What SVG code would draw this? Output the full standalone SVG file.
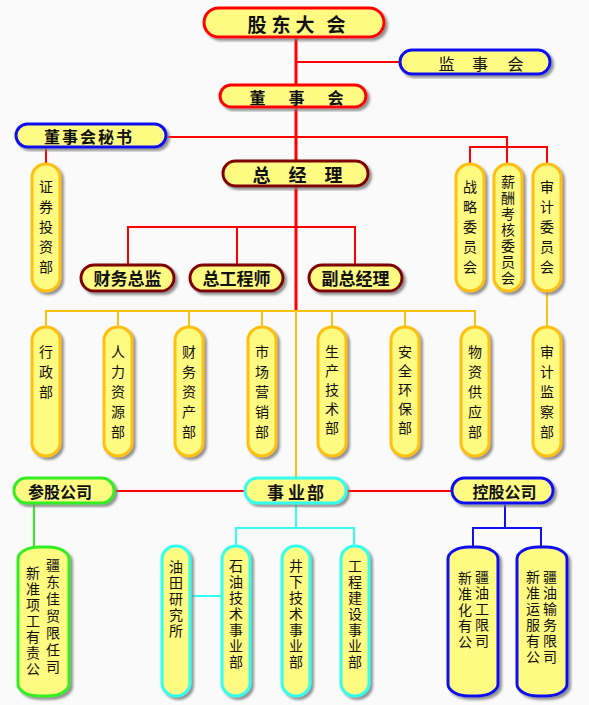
<svg xmlns="http://www.w3.org/2000/svg" width="589" height="705" viewBox="0 0 589 705">
<defs>
<filter id="sh" x="-20%" y="-20%" width="140%" height="140%">
<feDropShadow dx="2.5" dy="2.5" stdDeviation="1.2" flood-color="#777" flood-opacity="0.8"/>
</filter>
<style>
.n{fill:#FFFA82;stroke-width:3;filter:url(#sh)}
.red{stroke:#FF0000}.blue{stroke:#1010F0}.dred{stroke:#800000}.org{stroke:#FFC010}.grn{stroke:#33EE22}.cyn{stroke:#33FFEE}
.t{font-family:"Noto Sans CJK SC","Noto Sans",sans-serif;fill:#111;text-anchor:middle;dominant-baseline:central}
.b{font-weight:bold}
.v{font-family:"Noto Sans CJK SC","Noto Sans",sans-serif;fill:#111;font-size:14px;writing-mode:vertical-rl;text-orientation:upright;text-anchor:start}
.s20{letter-spacing:6px}.s19{letter-spacing:5px}.s16{letter-spacing:2px}.s17{letter-spacing:3px}
.c{fill:none;stroke-width:2}
</style>
</defs>
<rect width="589" height="705" fill="#FAFAFA"/>
<g id="connectors" fill="none">
<path d="M296,37 V311" stroke="#FF0000" stroke-width="3"/>
<path class="c red" d="M296,62 H400"/>
<path class="c red" d="M166,137 H507 V164"/>
<path class="c red" d="M470,164 V147 H547 V164"/>
<path class="c red" d="M46,147 V164"/>
<path class="c red" d="M128,265 V227 H355 V265 M237,227 V265"/>
<path class="c org" d="M46,327 V311 H475 V327 M118,311 V327 M189,311 V327 M262,311 V327 M332,311 V327 M405,311 V327 M296,311 V478"/>
<path class="c org" d="M547,291 V327"/>
<path class="c red" d="M114,491 H245 M346,491 H452"/>
<path class="c grn" d="M34,503 V547"/>
<path class="c cyn" d="M296,503 V528 M236,546 V528 H354 V546 M190,596 H222"/>
<path class="c blue" d="M505,503 V528 M473,547 V528 H541 V547"/>
</g>
<g id="gudong">
<rect class="n red" x="204" y="8" width="180" height="29" rx="14.5"/>
<text class="t b" font-size="19" y="23"><tspan x="257">股</tspan><tspan x="281">东</tspan><tspan x="305">大</tspan><tspan x="336">会</tspan></text>
</g>
<g id="jianshihui">
<rect class="n blue" x="400" y="50" width="150" height="24" rx="12"/>
<text class="t" font-size="16" y="63"><tspan x="446.5">监</tspan><tspan x="480">事</tspan><tspan x="515.5">会</tspan></text>
</g>
<g id="dongshihui">
<rect class="n red" x="220" y="85" width="146" height="22" rx="11"/>
<text class="t b" font-size="16" y="96.5"><tspan x="257.5">董</tspan><tspan x="296.5">事</tspan><tspan x="335.5">会</tspan></text>
</g>
<g id="mishu">
<rect class="n blue" x="16" y="124" width="150" height="23" rx="11.5"/>
<text class="t b" font-size="16" x="89" y="135.5" letter-spacing="2">董事会秘书</text>
</g>
<g id="zongjingli">
<rect class="n dred" x="223" y="161" width="145" height="25" rx="12.5"/>
<text class="t b" font-size="18" y="174"><tspan x="261.5">总</tspan><tspan x="297.5">经</tspan><tspan x="333.5">理</tspan></text>
</g>
<g id="caiwuzongjian">
<rect class="n dred" x="81" y="265" width="93" height="26" rx="13"/>
<text class="t b" font-size="17" x="127.5" y="277.5">财务总监</text>
</g>
<g id="zonggongchengshi">
<rect class="n dred" x="190" y="265" width="93" height="26" rx="13"/>
<text class="t b" font-size="17" x="236.5" y="277.5">总工程师</text>
</g>
<g id="fuzongjingli">
<rect class="n dred" x="309" y="265" width="93" height="26" rx="13"/>
<text class="t b" font-size="17" x="355.5" y="277.5">副总经理</text>
</g>
<g id="zhengquan">
<rect class="n org" x="32" y="164" width="28" height="127" rx="14" ry="13"/>
<text class="v s20" x="46" y="180">证券投资部</text>
</g>
<g id="zhanlue">
<rect class="n org" x="456" y="164" width="28" height="127" rx="14" ry="13"/>
<text class="v s20" x="470" y="180">战略委员会</text>
</g>
<g id="xinchou">
<rect class="n org" x="494" y="164" width="28" height="127" rx="14" ry="13"/>
<text class="v s16" x="508" y="175">薪酬考核委员会</text>
</g>
<g id="shenjiwei">
<rect class="n org" x="533" y="164" width="28" height="127" rx="14" ry="13"/>
<text class="v s20" x="547" y="180">审计委员会</text>
</g>
<g id="xingzheng">
<rect class="n org" x="32" y="327" width="28" height="129" rx="14" ry="13"/>
<text class="v s20" x="46" y="345">行政部</text>
</g>
<g id="renli">
<rect class="n org" x="104" y="327" width="28" height="129" rx="14" ry="13"/>
<text class="v s20" x="118" y="345">人力资源部</text>
</g>
<g id="caiwuzichan">
<rect class="n org" x="175" y="327" width="28" height="129" rx="14" ry="13"/>
<text class="v s20" x="189" y="345">财务资产部</text>
</g>
<g id="shichang">
<rect class="n org" x="248" y="327" width="28" height="129" rx="14" ry="13"/>
<text class="v s20" x="262" y="345">市场营销部</text>
</g>
<g id="shengchan">
<rect class="n org" x="318" y="327" width="28" height="129" rx="14" ry="13"/>
<text class="v s19" x="332" y="345">生产技术部</text>
</g>
<g id="anquan">
<rect class="n org" x="391" y="327" width="28" height="129" rx="14" ry="13"/>
<text class="v s19" x="405" y="345">安全环保部</text>
</g>
<g id="wuzi">
<rect class="n org" x="461" y="327" width="28" height="129" rx="14" ry="13"/>
<text class="v s20" x="475" y="345">物资供应部</text>
</g>
<g id="shenjijiancha">
<rect class="n org" x="533" y="327" width="28" height="129" rx="14" ry="13"/>
<text class="v s20" x="547" y="345">审计监察部</text>
</g>
<g id="cangu">
<rect class="n grn" x="14" y="478" width="100" height="25" rx="12.5"/>
<text class="t b" font-size="16" x="60" y="491">参股公司</text>
</g>
<g id="shiyebu">
<rect class="n cyn" x="245" y="478" width="101" height="25" rx="12.5"/>
<text class="t b" font-size="17" y="491"><tspan x="275.5">事</tspan><tspan x="296.5">业</tspan><tspan x="315.5">部</tspan></text>
</g>
<g id="konggu">
<rect class="n blue" x="452" y="478" width="101" height="25" rx="12.5"/>
<text class="t b" font-size="16" x="504.5" y="491">控股公司</text>
</g>
<g id="dongjia">
<rect class="n grn" x="18" y="547" width="51" height="149" rx="21" ry="12"/>
<text class="v s16" x="33" y="566">新准项工有责公</text>
<text class="v s17" x="53" y="558">疆东佳贸限任司</text>
</g>
<g id="youtian">
<rect class="n cyn" x="162" y="546" width="28" height="150" rx="14" ry="13"/>
<text class="v s16" x="176" y="560">油田研究所</text>
</g>
<g id="shiyou">
<rect class="n cyn" x="222" y="546" width="28" height="150" rx="14" ry="13"/>
<text class="v s16" x="236" y="559">石油技术事业部</text>
</g>
<g id="jingxia">
<rect class="n cyn" x="282" y="546" width="28" height="150" rx="14" ry="13"/>
<text class="v s16" x="296" y="559">井下技术事业部</text>
</g>
<g id="gongcheng">
<rect class="n cyn" x="341" y="546" width="28" height="150" rx="14" ry="13"/>
<text class="v s16" x="355" y="559">工程建设事业部</text>
</g>
<g id="huagong">
<rect class="n blue" x="448" y="547" width="50" height="149" rx="21" ry="12"/>
<text class="v s16" x="465" y="571">新准化有公</text>
<text class="v s16" x="482" y="570">疆油工限司</text>
</g>
<g id="yunshu">
<rect class="n blue" x="517" y="547" width="50" height="149" rx="21" ry="12"/>
<text class="v s16" x="533" y="570">新准运服有公</text>
<text class="v s16" x="550" y="570">疆油输务限司</text>
</g>
</svg>
